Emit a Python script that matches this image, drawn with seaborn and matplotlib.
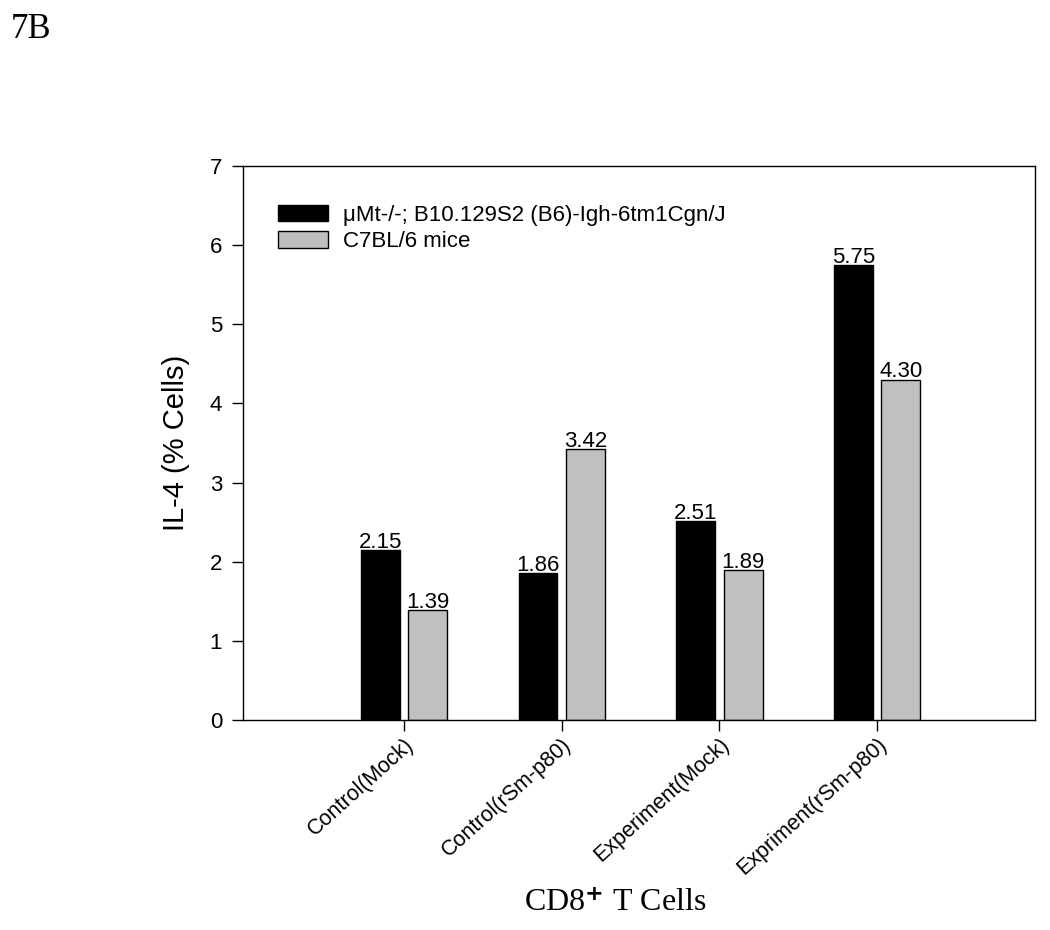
import pandas as pd
import matplotlib.pyplot as plt
import seaborn as sns

# data
groups = ['Control(Mock)', 'Control(rSm-p80)', 'Experiment(Mock)', 'Expriment(rSm-p80)']
strains = ['μMt-/-; B10.129S2 (B6)-Igh-6tm1Cgn/J', 'C7BL/6 mice']
mumt_values = [2.15, 1.86, 2.51, 5.75]
c57_values = [1.39, 3.42, 1.89, 4.30]

df = pd.DataFrame({
    'group': groups * 2,
    'strain': [strains[0]] * 4 + [strains[1]] * 4,
    'value': mumt_values + c57_values,
})

sns.set_style('white')
plt.rcParams['font.family'] = ['Liberation Sans', 'DejaVu Sans']
plt.rcParams['text.color'] = 'black'
plt.rcParams['axes.labelcolor'] = 'black'
plt.rcParams['xtick.color'] = 'black'
plt.rcParams['ytick.color'] = 'black'
plt.rcParams['mathtext.fontset'] = 'custom'
plt.rcParams['mathtext.rm'] = 'Liberation Serif'
plt.rcParams['mathtext.it'] = 'Liberation Serif:italic'

fig = plt.figure(figsize=(10.5, 9.3), dpi=100)
ax = fig.add_axes([0.2314, 0.2258, 0.7543, 0.5957])

sns.barplot(data=df, x='group', y='value', hue='strain', order=groups,
            hue_order=strains, palette=['black', '#c0c0c0'], width=0.6,
            gap=0.18, edgecolor='black', linewidth=1, ax=ax)

for cont in ax.containers:
    ax.bar_label(cont, fmt='%.2f', padding=-2, fontsize=16, color='black')

ax.set_xlim(-1.02, 4.0)
ax.set_ylim(0, 7)
ax.set_yticks(range(0, 8))
ax.tick_params(axis='both', direction='out', length=8, width=1, colors='black',
               bottom=True, left=True)
ax.tick_params(axis='y', labelsize=16, pad=7)
ax.tick_params(axis='x', labelsize=15.5, pad=2)
plt.setp(ax.get_xticklabels(), rotation=42, ha='right', rotation_mode='anchor')
for s in ax.spines.values():
    s.set_color('black')
    s.set_linewidth(1)

ax.set_ylabel('IL-4 (% Cells)', fontsize=21, labelpad=14)
ax.set_xlabel(r'CD8$^{\mathbf{+}}$ T Cells', fontsize=23, family='Liberation Serif')
ax.xaxis.set_label_coords(0.47, -0.305)

ax.legend(loc='upper left', bbox_to_anchor=(0.044, 0.93), frameon=False,
          fontsize=16, handlelength=2.25, handleheight=0.75, labelspacing=0.25,
          handletextpad=0.7, borderpad=0, borderaxespad=0)

fig.text(0.01, 0.968, '7B', fontsize=25, family='Liberation Serif', va='center',
         color='black')

fig.savefig('out.png', dpi=100)
